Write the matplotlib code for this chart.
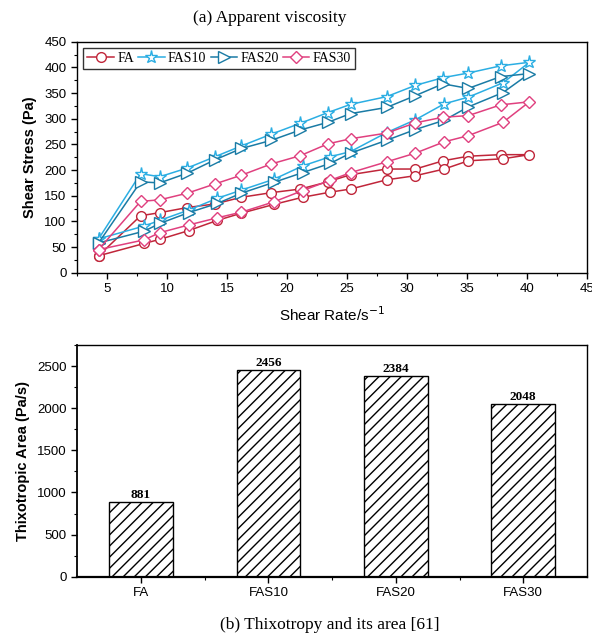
import matplotlib.pyplot as plt
from matplotlib.ticker import MultipleLocator, FixedLocator

# ---- data ----
rate_up = [4.3, 7.8, 9.4, 11.7, 14.0, 16.2, 18.7, 21.1, 23.4, 25.3, 28.3, 30.7, 33.0, 35.1, 37.8, 40.2]
rate_down = [38.0, 35.1, 33.1, 30.7, 28.3, 25.3, 23.6, 21.3, 18.9, 16.2, 14.2, 11.8, 9.4, 8.1, 4.3]

fa_up = [33, 111, 117, 127, 134, 147, 156, 163, 177, 191, 202, 202, 218, 227, 230, 230]
fa_down = [222, 218, 202, 189, 181, 163, 157, 147, 133, 116, 102, 82, 65, 57, 33]
fas10_up = [66, 193, 187, 204, 226, 247, 270, 291, 312, 328, 343, 365, 380, 389, 403, 410]
fas10_down = [370, 342, 329, 298, 273, 236, 226, 208, 182, 161, 145, 122, 102, 91, 66]
fas20_up = [58, 177, 175, 194, 220, 242, 258, 278, 293, 310, 322, 345, 368, 359, 382, 388]
fas20_down = [351, 323, 297, 279, 258, 233, 213, 195, 176, 155, 135, 117, 96, 81, 58]
fas30_up = [45, 139, 142, 155, 173, 190, 212, 228, 251, 261, 272, 292, 303, 306, 327, 333]
fas30_down = [293, 267, 255, 233, 216, 195, 180, 160, 138, 118, 107, 93, 78, 64, 45]

groups = ['FA', 'FAS10', 'FAS20', 'FAS30']
areas = [881, 2456, 2384, 2048]

# ---- figure ----
fig = plt.figure(figsize=(5.92, 6.39), dpi=100)
serif = 'Liberation Serif'
sans = 'Liberation Sans'

ax1 = fig.add_axes([0.130, 0.5732, 0.8616, 0.3615])
styles = [
    ('FA', fa_up, fa_down, '#C0263A', 'o', 7),
    ('FAS10', fas10_up, fas10_down, '#2BAEE3', '*', 9.5),
    ('FAS20', fas20_up, fas20_down, '#1A7BA5', '>', 8),
    ('FAS30', fas30_up, fas30_down, '#E0407F', 'D', 6.5),
]
for name, up, down, c, m, ms in styles:
    xs = rate_up + rate_down
    ys = up + down
    ax1.plot(xs, ys, color=c, lw=1.1, marker=m, ms=ms, mfc='white', mec=c,
             mew=1.0, label=name)

ax1.set_xlim(2.5, 45)
ax1.set_ylim(0, 450)
ax1.xaxis.set_major_locator(MultipleLocator(5))
ax1.xaxis.set_minor_locator(MultipleLocator(2.5))
ax1.yaxis.set_major_locator(MultipleLocator(50))
ax1.yaxis.set_minor_locator(MultipleLocator(25))
ax1.tick_params(which='major', direction='out', length=4, width=1, labelsize=9.5)
ax1.tick_params(which='minor', direction='out', length=2.5, width=0.8)
for lab in ax1.get_xticklabels() + ax1.get_yticklabels():
    lab.set_fontfamily(sans)
for sp in ax1.spines.values():
    sp.set_linewidth(1.0)
ax1.set_ylabel('Shear Stress (Pa)', fontfamily=sans, fontweight='bold', fontsize=10.5, labelpad=5)
ax1.set_xlabel('Shear Rate/s$^{-1}$', fontfamily=sans, fontsize=11, labelpad=7)
leg = ax1.legend(loc='upper left', ncol=4, frameon=True, fancybox=False,
                 edgecolor='black', prop={'family': serif, 'size': 10},
                 handlelength=1.9, handletextpad=0.25, columnspacing=0.3,
                 borderpad=0.3, borderaxespad=0.45)
leg.get_frame().set_linewidth(1.0)

fig.text(0.456, 0.972, '(a) Apparent viscosity', ha='center', va='center',
         fontfamily=serif, fontsize=12.5)

# ---- bar chart ----
ax2 = fig.add_axes([0.1305, 0.0975, 0.8611, 0.3626])
pos = list(range(len(groups)))
bars = ax2.bar(pos, areas, width=0.5, color='white', edgecolor='black',
               linewidth=1.0, hatch='///')
for b, v in zip(bars, areas):
    ax2.text(b.get_x() + b.get_width() / 2, v + 15, str(v), ha='center', va='bottom',
             fontfamily=serif, fontweight='bold', fontsize=9.5)
ax2.set_xlim(-0.5, 3.5)
ax2.set_ylim(0, 2750)
ax2.set_xticks(pos)
ax2.set_xticklabels(groups)
ax2.xaxis.set_minor_locator(FixedLocator([0.5, 1.5, 2.5]))
ax2.yaxis.set_major_locator(MultipleLocator(500))
ax2.yaxis.set_minor_locator(MultipleLocator(250))
ax2.tick_params(which='major', direction='out', length=4, width=1, labelsize=9.5)
ax2.tick_params(which='minor', direction='out', length=2.5, width=0.8)
for lab in ax2.get_xticklabels() + ax2.get_yticklabels():
    lab.set_fontfamily(sans)
for sp in ax2.spines.values():
    sp.set_linewidth(1.0)
ax2.spines['bottom'].set_linewidth(1.6)
ax2.spines['left'].set_linewidth(1.3)
ax2.set_ylabel('Thixotropic Area (Pa/s)', fontfamily=sans, fontweight='bold', fontsize=10.5, labelpad=5)

fig.text(0.557, 0.022, '(b) Thixotropy and its area [61]', ha='center', va='center',
         fontfamily=serif, fontsize=12.5)

fig.savefig('out.png', dpi=100, facecolor='white')
